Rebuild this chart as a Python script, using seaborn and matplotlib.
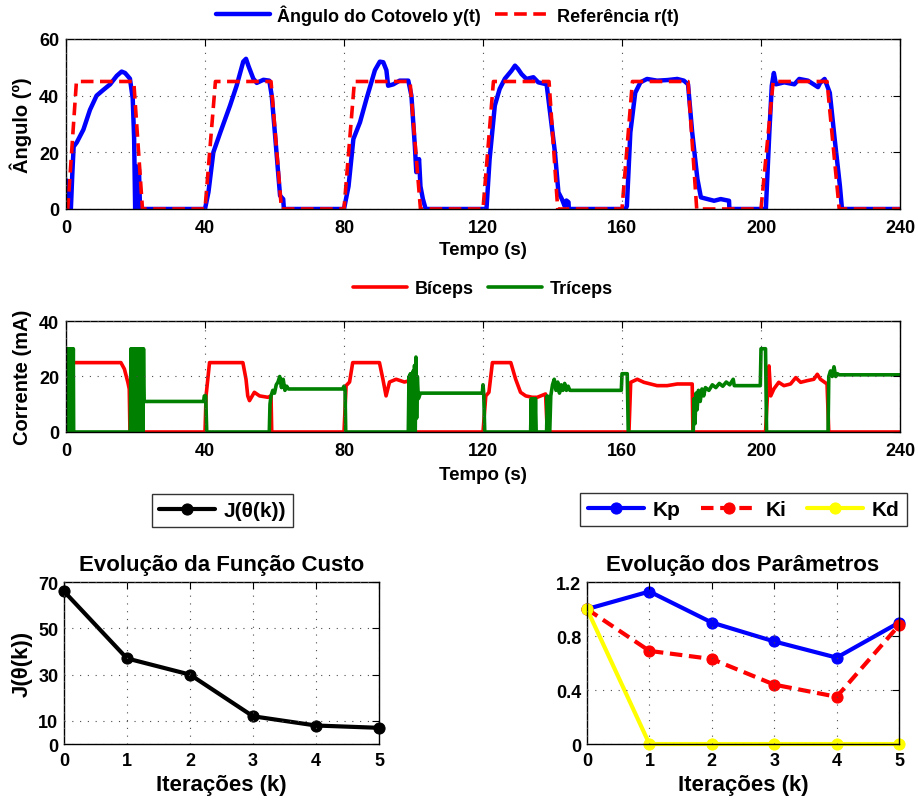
import matplotlib
matplotlib.use('Agg')
import matplotlib.pyplot as plt
import pandas as pd
import seaborn as sns

# --- reference r(t) and elbow angle y(t) (deg) ---
ref_t = [0, 0.5, 3, 19.5, 22, 40, 43, 59, 62, 80, 83, 99, 102, 120, 123,
         139, 141.5, 160, 163, 179, 181.5, 200, 203.5, 219, 222.5, 240]
ref_y = [0, 0, 45, 45, 0, 0, 45, 45, 0, 0, 45, 45, 0, 0, 45,
         45, 0, 0, 45, 45, 0, 0, 45, 45, 0, 0]

angle_t = [0.0, 0.3, 0.6, 1.4, 1.8, 2.2, 3.1, 5.0, 6.9, 8.8, 10.7, 12.7, 14.6, 16.0, 17.0, 18.4, 19.2, 19.6, 19.9, 20.2, 20.5, 21.0, 21.3,
           40.0, 41.0, 42.4, 44.4, 47.2, 49.1, 51.0, 51.8, 52.5, 53.9, 54.9, 56.8, 58.5, 59.2, 60.1, 61.1, 61.6, 62.5, 62.7,
           80.0, 81.3, 82.7, 84.6, 86.5, 88.9, 90.3, 91.3, 92.2, 92.7, 94.2, 96.0, 98.5, 99.4, 100.4, 100.8, 101.6, 102.0, 102.7, 103.5,
           121.0, 121.9, 123.4, 124.8, 126.3, 128.2, 129.2, 130.1, 131.1, 132.5, 134.5, 135.9, 138.3, 139.3, 140.7, 141.7, 142.7, 143.5, 144.0, 144.6, 144.7,
           161.0, 161.4, 162.4, 163.8, 165.3, 167.2, 170.1, 173.0, 175.9, 177.8, 179.0, 180.2, 181.7, 182.7, 184.6, 186.5, 188.4, 190.8, 190.9,
           201.4, 202.4, 203.1, 203.7, 204.3, 206.7, 209.6, 211.0, 213.5, 216.4, 217.0, 218.3, 219.8, 221.2, 222.7, 223.3, 240.0]
angle_y = [0, 10, 0, 0, 12, 22, 23.5, 28, 35, 40, 42, 44, 47, 48.5, 48, 46, 39, 25, 0, 10, 15, 14, 0,
           0, 6, 20, 27, 36.5, 43.5, 52, 53, 50.5, 46, 44.5, 45.6, 45.3, 40, 27, 12, 4.7, 3.5, 0,
           0, 8, 24.7, 30.6, 39, 49, 52, 51.8, 49, 43.5, 44, 45.3, 45.3, 40, 22, 13, 17.6, 8, 3.5, 0,
           0, 17.6, 36.5, 42.4, 46, 48.8, 50.6, 49.4, 47.6, 45.9, 46.5, 44.7, 44, 34, 20, 5.9, 3.5, 1.0, 3.0, 2.4, 0,
           0, 1, 27, 41, 44.7, 45.9, 45.3, 45.5, 45.9, 45.3, 44, 27, 10.6, 4.1, 3.5, 2.9, 3.5, 2.9, 0,
           0, 27, 43.5, 48, 44, 44.7, 44, 45.9, 45.3, 43, 44.5, 45.9, 41, 24.7, 8.2, 0, 0]

# --- stimulation currents (mA) ---
biceps_t = [0, 1.2, 1.5, 15.8, 16.8, 17.8, 18.2, 18.4, 21.8, 21.9, 22.1,
            40.0, 40.3, 41.3, 50.9, 51.8, 52.3, 52.8, 54.2, 55.7, 58.1, 59.0, 59.2,
            80.0, 80.6, 81.6, 82.5, 90.2, 91.2, 92.1, 93.1, 95.0, 97.4, 98.8, 99.0,
            120.0, 120.8, 121.7, 122.7, 128.0, 129.4, 130.8, 132.3, 134.2, 135.6, 138.0, 138.5,
            162.0, 162.5, 164.4, 166.3, 168.2, 170.1, 173.0, 175.9, 177.8, 180.2, 180.4,
            201.3, 202.3, 202.8, 203.7, 205.1, 206.6, 208.5, 210.0, 211.4, 213.3, 215.2, 216.2, 217.1, 219.0, 219.5, 240.0]
biceps_y = [0, 0, 25, 25, 22.7, 17.9, 15.5, 0, 0, 25, 0,
            0, 13, 25, 25, 19, 13, 11.3, 14.3, 13, 12.5, 13, 0,
            0, 16.7, 18, 25, 25, 19, 13, 18, 19, 18, 18.5, 0,
            0, 13, 14.3, 25, 25, 19, 14.3, 13, 12.5, 12.5, 13.7, 0,
            0, 17.9, 19, 17.9, 17.3, 16.7, 16.7, 17.3, 17.3, 17.3, 0,
            0, 23.8, 13, 15.5, 17.9, 16.7, 17.3, 19.6, 17.9, 18.5, 19, 20.8, 19, 17.3, 0, 0]

triceps_t = [0.0, 0.15, 0.3, 0.45, 0.6, 0.75, 0.9, 1.05, 1.2, 1.35, 1.5, 1.65, 1.8, 1.95, 2.1, 2.2,
             18.5, 18.7, 18.9, 19.1, 19.3, 19.5, 19.7, 19.9, 20.1, 20.3, 20.5, 20.7, 20.9, 21.1, 21.3, 21.5, 21.7, 21.9, 22.1, 22.3, 22.5,
             39.6, 39.8, 40.2, 40.5,
             58.5, 58.7, 59.0, 59.5, 60.0, 60.5, 61.0, 61.5, 62.0, 62.5, 63.0, 63.5, 64.0,
             79.6, 80.0, 80.3, 80.5,
             98.5, 98.7, 98.9, 99.1, 99.3, 99.5, 99.7, 99.9, 100.1, 100.3, 100.5, 100.7, 100.9, 101.1, 101.4, 102.0,
             119.8, 120.0, 120.2, 120.5,
             133.7, 133.9, 134.1, 134.3, 134.5, 134.7, 134.9, 135.1, 135.3, 135.5,
             135.8, 138.3, 138.5, 138.8, 139.2, 139.5, 140.0, 140.5, 141.0, 141.5, 142.0, 142.5, 143.0, 143.5, 144.0, 144.5, 145.0,
             159.8, 160.0, 161.5, 161.8,
             180.5, 180.7, 181.0, 181.3, 181.6, 182.0, 182.5, 183.0, 183.5, 184.0, 185.0, 186.0, 187.0, 188.0, 189.0, 190.0, 191.0, 192.0, 192.3,
             199.8, 200.0, 201.3, 201.6,
             219.3, 219.5, 220.0, 220.5, 221.0, 221.5, 222.0, 222.5, 223.0, 240.0]
triceps_y = [30, 0, 30, 0, 30, 0, 30, 0, 30, 0, 30, 0, 30, 0, 30, 0,
             0, 30, 0, 30, 0, 30, 0, 30, 0, 30, 0, 30, 0, 30, 0, 30, 0, 30, 0, 30, 11,
             11, 13, 13, 0,
             0, 10, 13, 15, 14, 17, 18, 20, 16, 19, 15, 16.5, 15.5,
             15.5, 16.5, 15, 0,
             0, 20, 0, 21, 0, 20, 0, 22, 0, 24, 0, 27, 5, 20, 12, 14,
             14, 17, 14, 0,
             0, 12, 0, 12, 0, 12, 0, 12, 0, 0,
             0, 0, 13, 0, 0, 13, 17, 19, 15, 18, 14, 17, 15, 17.5, 15, 16.5, 15,
             15, 21, 21, 0,
             0, 12, 3, 14, 8, 15, 11, 15.5, 13, 16, 15, 17, 16, 17.5, 16.5, 18, 17, 19, 16.7,
             16.7, 30, 30, 0,
             0, 20, 22, 20, 23.5, 20, 21, 20.6, 20.6, 20.6]

# --- optimisation iterations ---
iters = [0, 1, 2, 3, 4, 5]
cost = [66, 37, 30, 12, 8, 7]
kp = [1.0, 1.13, 0.9, 0.76, 0.64, 0.9]
ki = [1.0, 0.69, 0.63, 0.44, 0.35, 0.88]
kd = [1.0, 0, 0, 0, 0, 0]

sns.set_style('white')
plt.rcParams['font.family'] = ['Liberation Sans', 'DejaVu Sans']
plt.rcParams['font.weight'] = 'bold'
plt.rcParams['axes.labelweight'] = 'bold'
plt.rcParams['axes.titleweight'] = 'bold'
plt.rcParams['text.color'] = 'black'
plt.rcParams['axes.labelcolor'] = 'black'
plt.rcParams['xtick.color'] = 'black'
plt.rcParams['ytick.color'] = 'black'


def style_axes(ax, tick_size, pad=6):
    for s in ax.spines.values():
        s.set_visible(True)
        s.set_color('black')
        s.set_linewidth(1.0)
    ax.tick_params(direction='in', top=True, right=True, length=5, width=0.8,
                   labelsize=tick_size, colors='black', pad=pad)
    ax.grid(True, color='0.3', linestyle=(0, (1, 6)), linewidth=0.8)
    ax.set_axisbelow(False)


fig = plt.figure(figsize=(9.18, 8.03), dpi=100)

# top: elbow angle
ax1 = fig.add_axes([0.0719, 0.7385, 0.9085, 0.2117])
df_ang = pd.DataFrame({'t': angle_t, 'y': angle_y})
df_ref = pd.DataFrame({'t': ref_t, 'y': ref_y})
sns.lineplot(data=df_ang, x='t', y='y', ax=ax1, color='#0000ff', linewidth=3.2,
             sort=False, estimator=None, label='Ângulo do Cotovelo y(t)')
sns.lineplot(data=df_ref, x='t', y='y', ax=ax1, color='#ff0000', linewidth=2.6,
             sort=False, estimator=None, dashes=False, label='Referência r(t)')
ax1.lines[1].set_dashes((3.5, 1.8))
ax1.set_xlim(0, 240)
ax1.set_ylim(0, 60)
ax1.set_xticks([0, 40, 80, 120, 160, 200, 240])
ax1.set_yticks([0, 20, 40, 60])
ax1.set_xlabel('Tempo (s)', fontsize=13.5, labelpad=4)
ax1.set_ylabel('Ângulo (º)', fontsize=14.5, labelpad=5)
style_axes(ax1, 13, pad=7)
ax1.tick_params(axis='y', pad=5)
h, l = ax1.get_legend_handles_labels()
ax1.get_legend().remove()
fig.legend(h, l, loc='center', bbox_to_anchor=(0.487, 0.981), ncol=2, frameon=False,
           fontsize=13, handlelength=3.0, columnspacing=0.8, handletextpad=0.4)

# middle: currents
ax2 = fig.add_axes([0.0719, 0.4608, 0.9085, 0.1382])
df_bic = pd.DataFrame({'t': biceps_t, 'y': biceps_y})
df_tri = pd.DataFrame({'t': triceps_t, 'y': triceps_y})
sns.lineplot(data=df_bic, x='t', y='y', ax=ax2, color='#ff0000', linewidth=2.6,
             sort=False, estimator=None, label='Bíceps')
sns.lineplot(data=df_tri, x='t', y='y', ax=ax2, color='#008000', linewidth=2.6,
             sort=False, estimator=None, label='Tríceps')
ax2.set_xlim(0, 240)
ax2.set_ylim(0, 40)
ax2.set_xticks([0, 40, 80, 120, 160, 200, 240])
ax2.set_yticks([0, 20, 40])
ax2.set_xlabel('Tempo (s)', fontsize=13.5, labelpad=5)
ax2.set_ylabel('Corrente (mA)', fontsize=14.5, labelpad=5)
style_axes(ax2, 13, pad=7)
ax2.tick_params(axis='y', pad=5)
h, l = ax2.get_legend_handles_labels()
ax2.get_legend().remove()
fig.legend(h, l, loc='center', bbox_to_anchor=(0.526, 0.639), ncol=2, frameon=False,
           fontsize=13, handlelength=3.0, columnspacing=0.8, handletextpad=0.4)

# bottom left: cost function
ax3 = fig.add_axes([0.0697, 0.0722, 0.3431, 0.2017])
df_cost = pd.DataFrame({'k': iters, 'J': cost})
sns.lineplot(data=df_cost, x='k', y='J', ax=ax3, color='black', linewidth=3,
             marker='o', markersize=8, markeredgecolor='black', clip_on=False,
             estimator=None, label='J(θ(k))')
ax3.set_xlim(0, 5)
ax3.set_ylim(0, 70)
ax3.set_xticks(iters)
ax3.set_yticks([0, 10, 30, 50, 70])
ax3.set_xlabel('Iterações (k)', fontsize=16, labelpad=3)
ax3.set_ylabel('J(θ(k))', fontsize=16, labelpad=4)
ax3.set_title('Evolução da Função Custo', fontsize=16, pad=9)
style_axes(ax3, 13)
ax3.tick_params(axis='y', pad=4)
h, l = ax3.get_legend_handles_labels()
ax3.get_legend().remove()
leg = fig.legend(h, l, loc='center', bbox_to_anchor=(0.2424, 0.363), frameon=True,
                 fancybox=False, edgecolor='black', fontsize=15, handlelength=2.7,
                 handletextpad=0.4, borderpad=0.35)
leg.get_frame().set_linewidth(1.0)

# bottom right: PID parameters
ax4 = fig.add_axes([0.6394, 0.0722, 0.34, 0.2017])
df_par = pd.DataFrame({'k': iters, 'Kp': kp, 'Ki': ki, 'Kd': kd})
sns.lineplot(data=df_par, x='k', y='Kp', ax=ax4, color='#0000ff', linewidth=3,
             marker='o', markersize=8, markeredgecolor='#0000ff', clip_on=False,
             estimator=None, label='Kp')
sns.lineplot(data=df_par, x='k', y='Ki', ax=ax4, color='#ff0000', linewidth=3,
             marker='o', markersize=8, markeredgecolor='#ff0000', clip_on=False,
             estimator=None, label='Ki')
sns.lineplot(data=df_par, x='k', y='Kd', ax=ax4, color='#ffff00', linewidth=3,
             marker='o', markersize=8, markeredgecolor='#ffff00', clip_on=False,
             estimator=None, label='Kd')
ax4.lines[1].set_dashes((3, 1.6))
ax4.set_xlim(0, 5)
ax4.set_ylim(0, 1.2)
ax4.set_xticks(iters)
ax4.set_yticks([0, 0.4, 0.8, 1.2])
ax4.set_yticklabels(['0', '0.4', '0.8', '1.2'])
ax4.set_xlabel('Iterações (k)', fontsize=16, labelpad=3)
ax4.set_ylabel('')
ax4.set_title('Evolução dos Parâmetros', fontsize=16, pad=9)
style_axes(ax4, 13)
ax4.tick_params(axis='y', pad=4)
h, l = ax4.get_legend_handles_labels()
ax4.get_legend().remove()
leg = fig.legend(h, l, loc='center', bbox_to_anchor=(0.81, 0.364), ncol=3, frameon=True,
                 fancybox=False, edgecolor='black', fontsize=15, handlelength=2.7,
                 handletextpad=0.4, columnspacing=1.0, borderpad=0.35)
leg.get_frame().set_linewidth(1.0)

fig.savefig('out.png', dpi=100)
